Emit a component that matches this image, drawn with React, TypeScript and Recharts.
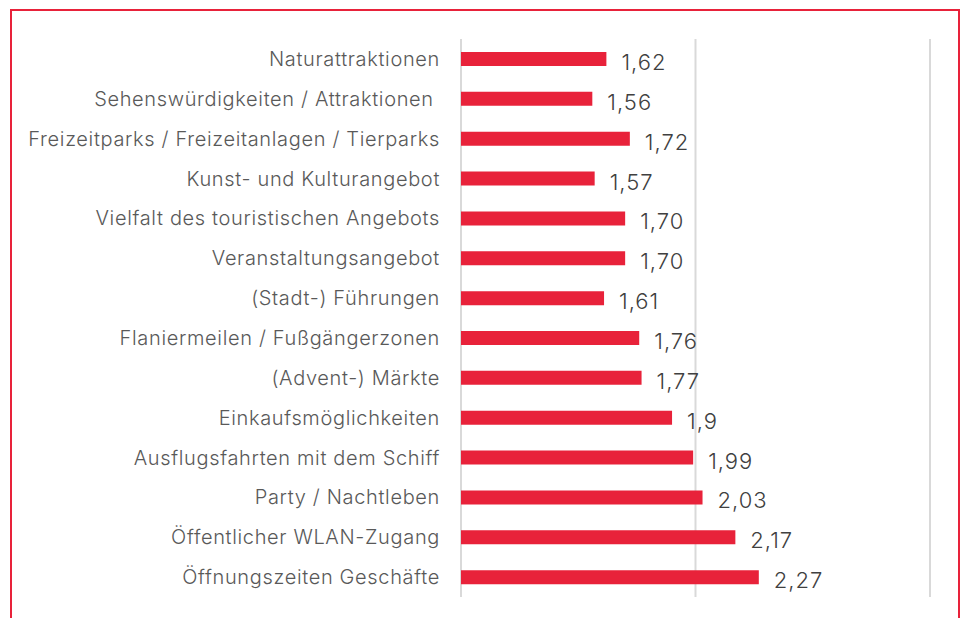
import React from 'react';
import { BarChart, Bar, XAxis, YAxis, CartesianGrid, LabelList } from 'recharts';

const categories = [
  'Naturattraktionen',
  'Sehenswürdigkeiten / Attraktionen\u00A0',
  'Freizeitparks / Freizeitanlagen / Tierparks',
  'Kunst- und Kulturangebot',
  'Vielfalt des touristischen Angebots',
  'Veranstaltungsangebot',
  '(Stadt-) Führungen',
  'Flaniermeilen / Fußgängerzonen',
  '(Advent-) Märkte',
  'Einkaufsmöglichkeiten',
  'Ausflugsfahrten mit dem Schiff',
  'Party / Nachtleben',
  'Öffentlicher WLAN-Zugang',
  'Öffnungszeiten Geschäfte',
];

const values = [1.62, 1.56, 1.72, 1.57, 1.7, 1.7, 1.61, 1.76, 1.77, 1.9, 1.99, 2.03, 2.17, 2.27];

const valueLabels = ['1,62', '1,56', '1,72', '1,57', '1,70', '1,70', '1,61', '1,76', '1,77', '1,9', '1,99', '2,03', '2,17', '2,27'];

const xTicks = [1, 2, 3];

const data = categories.map((name, i) => ({ name, value: values[i], label: valueLabels[i] }));

const FONT = 'Inter, Roboto, "Noto Sans", sans-serif';

const ValueLabel = (props: any) => {
  const { x, y, width, height, value } = props;
  return (
    <text
      x={x + width + 15}
      y={y + height / 2 + 3}
      dominantBaseline="central"
      fontSize={22}
      fontWeight={300}
      letterSpacing={1}
      fill="#404040"
      fontFamily={FONT}
    >
      {value}
    </text>
  );
};

export default function App() {
  return (
    <div style={{ position: 'absolute', left: 0, top: 0, width: 965, height: 618, background: '#fff', overflow: 'hidden' }}>
      <div
        style={{
          position: 'absolute',
          left: 10,
          top: 9,
          width: 946,
          height: 700,
          border: '2px solid #e8223a',
        }}
      />
      <div style={{ position: 'absolute', left: 0, top: 0 }}>
        <BarChart
          width={965}
          height={618}
          data={data}
          layout="vertical"
          margin={{ top: 39, right: 35, bottom: 21, left: 0 }}
        >
          <CartesianGrid horizontal={false} vertical={true} stroke="#d9d9d9" strokeWidth={2} />
          <XAxis type="number" domain={[1, 3]} ticks={xTicks} hide />
          <YAxis
            type="category"
            dataKey="name"
            width={461}
            axisLine={false}
            tickLine={false}
            tickSize={0}
            tickMargin={21}
            interval={0}
            tick={{ fontSize: 20, fontWeight: 300, fill: '#595959', fontFamily: FONT, letterSpacing: 0.65 }}
          />
          <Bar dataKey="value" fill="#e8223a" barSize={14} isAnimationActive={false}>
            <LabelList dataKey="label" content={ValueLabel} />
          </Bar>
        </BarChart>
      </div>
    </div>
  );
}
